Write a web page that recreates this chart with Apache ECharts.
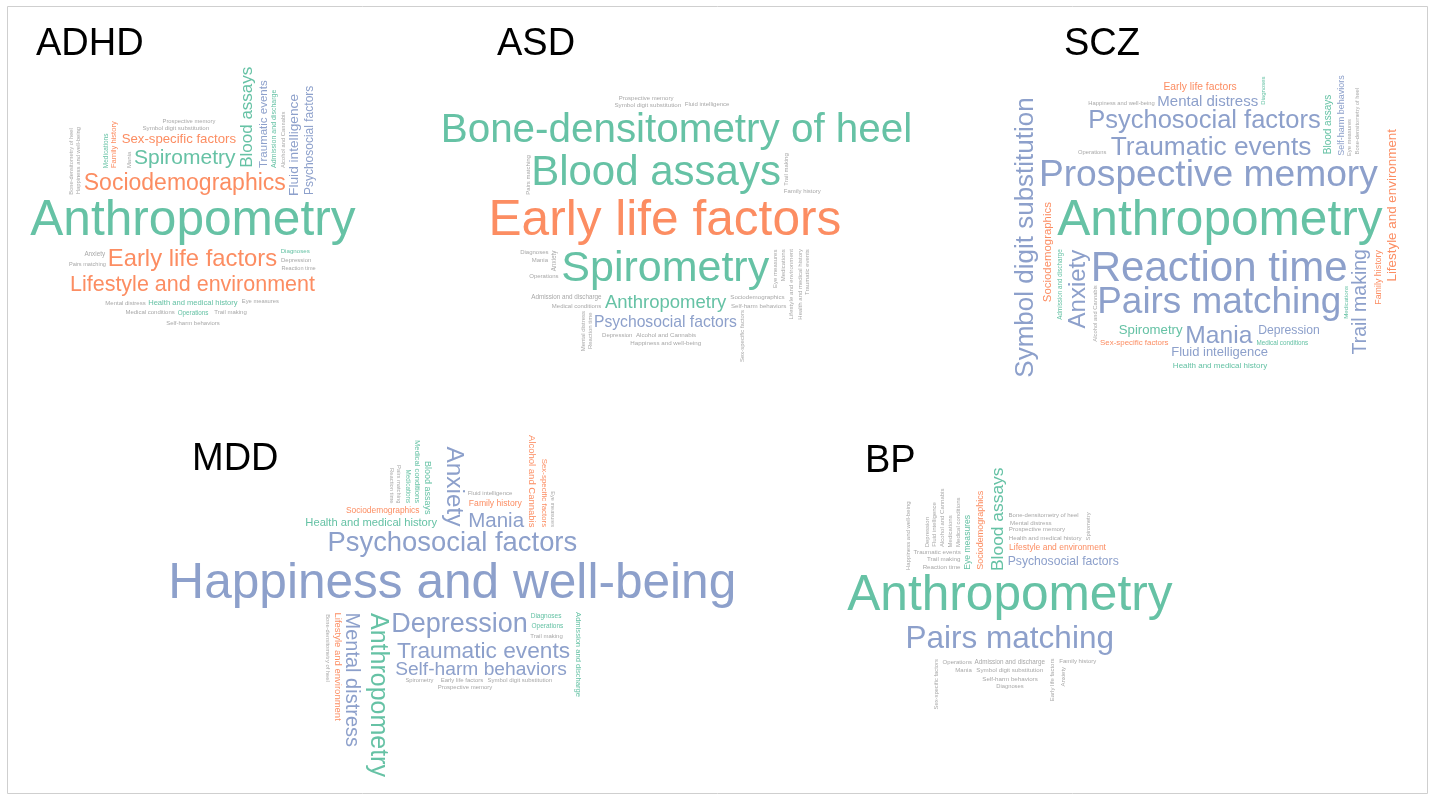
<!DOCTYPE html>
<html>
<head>
<meta charset="utf-8">
<style>
html, body { margin: 0; padding: 0; background: #fff; }
#main { width: 1429px; height: 795px; }
</style>
<script src="https://cdn.jsdelivr.net/npm/echarts@6/dist/echarts.min.js"></script>
</head>
<body>
<div id="main"></div>
<script>
// domains shown in every cloud
var categories = [
    'Anthropometry', 'Blood assays', 'Spirometry', 'Bone-densitometry of heel', 'Eye measures',
    'Health and medical history', 'Medical conditions', 'Diagnoses', 'Medications', 'Operations',
    'Admission and discharge', 'Early life factors', 'Sociodemographics', 'Lifestyle and environment',
    'Sex-specific factors', 'Family history', 'Alcohol and Cannabis', 'Psychosocial factors',
    'Fluid intelligence', 'Pairs matching', 'Prospective memory', 'Reaction time',
    'Symbol digit substitution', 'Trail making', 'Traumatic events', 'Mental distress', 'Mania',
    'Anxiety', 'Depression', 'Happiness and well-being', 'Self-harm behaviors'
];
// 0 = physical / medical, 1 = lifestyle, 2 = mental / cognitive
var groups = [0,0,0,0,0,0,0,0,0,0,0,1,1,1,1,1,1,2,2,2,2,2,2,2,2,2,2,2,2,2,2];

// word weights (same order as categories)
var adhdWeight = [49.6,17,21,5.7,5.8,7.6,6,6.2,6.5,6.3,7,23.8,23,21.5,13.2,7.6,5.8,12,13.7,5.6,5.8,5.6,6.2,6,11.5,6,6,6.3,6,5.9,6];
var adhdSig    = [1,1,1,0,0,1,0,1,1,1,1,1,1,1,1,1,0,1,1,0,0,0,0,0,1,0,0,0,0,0,0];

var asdWeight  = [18.5,42,43,40.4,6,6,6,6,6,6,6.3,49.6,6.2,6.2,6,6,6.2,15.7,6,6,6,6,6.2,6,6,6,6,6.3,6,6.2,6.2];
var asdSig     = [1,1,1,1,0,0,0,0,0,0,0,1,0,0,0,0,0,1,0,0,0,0,0,0,0,0,0,0,0,0,0];

var sczWeight  = [49.6,10,13.2,5.7,5.8,8,6.3,6,6.2,5.8,6.3,10.3,11.4,13.4,7.9,8.9,5.8,25.5,13,36.9,37.2,42,26,19.5,26.3,15,24.6,24,12.2,5.8,9];
var sczSig     = [1,1,1,0,0,1,1,1,1,0,1,1,1,1,1,1,0,1,1,1,1,1,1,1,1,1,1,1,1,0,1];

var mddWeight  = [25,9,5.8,5.8,5.6,11.2,7.7,6.5,6.3,6.5,7.6,6,8.4,9.5,7.9,8.6,9.5,27.4,6,5.8,6,5.8,6,6,22.7,20,20.5,24.4,27,49.6,19.2];
var mddSig     = [1,1,0,0,0,1,1,1,1,1,1,0,1,1,1,1,1,1,0,0,0,0,0,0,1,1,1,1,1,1,1];

var bpWeight   = [49.6,17.4,5.8,6,8.6,6.2,6,5.8,6,6,6.3,6,9,8.5,5.8,6,6,12.2,6,31.5,6.2,6.2,6.2,6.2,6.2,6.2,6,6,6,6,6.2];
var bpSig      = [1,1,0,0,1,0,0,0,0,0,0,0,1,1,0,0,0,1,0,1,0,0,0,0,0,0,0,0,0,0,0];

var groupColors = ['#66C2A5', '#FC8D62', '#8DA0CB'];
var greyColor = '#A8A8A8';
var fontFamily = 'Liberation Sans';
var sizeScale = 1;

// one entry per panel; "vertical" lists the words drawn turned
var clouds = [
    { title: 'ADHD', weight: adhdWeight, sig: adhdSig, cx: 193, cy: 222, start: Math.PI / 2, turn: 90,
      bounds: [20, 60, 420, 400], titlePos: [36, 26],
      vertical: ['Psychosocial factors', 'Fluid intelligence', 'Blood assays', 'Family history', 'Traumatic events',
                 'Admission and discharge', 'Medications', 'Bone-densitometry of heel', 'Happiness and well-being',
                 'Mania', 'Alcohol and Cannabis'] },
    { title: 'ASD', weight: asdWeight, sig: asdSig, cx: 666, cy: 222, start: Math.PI / 2, turn: 90,
      bounds: [440, 60, 970, 400], titlePos: [497, 26],
      vertical: ['Medications', 'Trail making', 'Pairs matching', 'Traumatic events', 'Health and medical history',
                 'Eye measures', 'Anxiety', 'Mental distress', 'Reaction time', 'Sex-specific factors',
                 'Lifestyle and environment'] },
    { title: 'SCZ', weight: sczWeight, sig: sczSig, cx: 1220, cy: 222, start: Math.PI / 2, turn: 90,
      bounds: [1000, 12, 1405, 490], titlePos: [1064, 26],
      vertical: ['Symbol digit substitution', 'Anxiety', 'Trail making', 'Lifestyle and environment', 'Sociodemographics',
                 'Family history', 'Self-harm behaviors', 'Blood assays', 'Medications', 'Admission and discharge',
                 'Diagnoses', 'Bone-densitometry of heel', 'Eye measures', 'Alcohol and Cannabis'] },
    { title: 'MDD', weight: mddWeight, sig: mddSig, cx: 453, cy: 585, start: -Math.PI / 2, turn: -90,
      bounds: [160, 430, 790, 790], titlePos: [192, 441],
      vertical: ['Anthropometry', 'Mental distress', 'Anxiety', 'Blood assays', 'Alcohol and Cannabis',
                 'Medical conditions', 'Admission and discharge', 'Lifestyle and environment', 'Sex-specific factors',
                 'Medications', 'Bone-densitometry of heel', 'Pairs matching', 'Reaction time', 'Eye measures'] },
    { title: 'BP', weight: bpWeight, sig: bpSig, cx: 1010, cy: 597, start: Math.PI / 2, turn: 90,
      bounds: [830, 430, 1210, 775], titlePos: [865, 443],
      vertical: ['Blood assays', 'Sociodemographics', 'Eye measures', 'Spirometry', 'Sex-specific factors',
                 'Alcohol and Cannabis', 'Fluid intelligence', 'Early life factors', 'Medical conditions',
                 'Medications', 'Depression', 'Anxiety', 'Happiness and well-being'] }
];

var titleSize = 38;
var ell = 0.85;

var measureCtx = document.createElement('canvas').getContext('2d');

// glyph box of a word around its label anchor: [left, top, right, bottom]
function textBox(text, size, rot) {
    measureCtx.font = size + 'px "' + fontFamily + '"';
    measureCtx.textAlign = 'center';
    measureCtx.textBaseline = 'middle';
    var m = measureCtx.measureText(text),
        l = m.actualBoundingBoxLeft, r = m.actualBoundingBoxRight,
        a = m.actualBoundingBoxAscent, d = m.actualBoundingBoxDescent;
    if (rot === 90) return [-a, -r, d, l];
    if (rot === -90) return [-d, -l, a, r];
    return [-l, -a, r, d];
}

function hits(rect, placed) {
    for (var j = 0; j < placed.length; j++) {
        var p = placed[j];
        if (rect[0] < p[2] && rect[2] > p[0] && rect[1] < p[3] && rect[3] > p[1]) return true;
    }
    return false;
}

// walk an elliptic spiral out from the panel centre, first free spot wins;
// the spiral point is the centre of the glyph box
function findSpot(box, cloud, placed, pad) {
    var r, n, k, th, x, y, rect, b = cloud.bounds,
        hw = (box[2] - box[0]) / 2, hh = (box[3] - box[1]) / 2,
        ox = (box[0] + box[2]) / 2, oy = (box[1] + box[3]) / 2;
    for (r = 0; r < 440; r += 1.5) {
        n = r === 0 ? 1 : Math.max(8, Math.round(Math.PI * r));
        for (k = 0; k < n; k++) {
            th = cloud.start + 2 * Math.PI * k / n;
            x = cloud.cx + r * Math.cos(th);
            y = cloud.cy + r * Math.sin(th) * ell;
            rect = [x - hw - pad, y - hh - pad, x + hw + pad, y + hh + pad];
            if (rect[0] < b[0] || rect[1] < b[1] || rect[2] > b[2] || rect[3] > b[3]) continue;
            if (!hits(rect, placed)) return { x: x - ox, y: y - oy, rect: rect };
        }
    }
    return null;
}

function layoutCloud(cloud) {
    var items = [], placed = [], out = [], i, it, box, spot, tb;

    // keep the panel title free
    tb = textBox(cloud.title, titleSize, 0);
    placed.push([cloud.titlePos[0] - 2, cloud.titlePos[1], cloud.titlePos[0] + tb[2] - tb[0] + 4, cloud.titlePos[1] + titleSize + 2]);

    for (i = 0; i < categories.length; i++) {
        items.push({
            name: categories[i],
            size: cloud.weight[i] * sizeScale,
            color: cloud.sig[i] ? groupColors[groups[i]] : greyColor,
            rot: cloud.vertical.indexOf(categories[i]) >= 0 ? cloud.turn : 0,
            order: i
        });
    }
    items.sort(function (a, b) { return b.size - a.size || a.order - b.order; });

    for (i = -1; it = items[++i];) {
        box = textBox(it.name, it.size, it.rot);
        spot = findSpot(box, cloud, placed, 1 + it.size * 0.03);
        if (!spot) continue;
        placed.push(spot.rect);
        out.push({
            name: it.name,
            value: [spot.x, spot.y],
            label: {
                show: true,
                position: 'inside',
                formatter: it.name,
                fontSize: it.size,
                fontFamily: fontFamily,
                color: it.color,
                opacity: 1,
                rotate: it.rot,
                align: 'center',
                verticalAlign: 'middle'
            }
        });
    }
    return out;
}

var series = [], titles = [];
clouds.forEach(function (cloud) {
    series.push({
        type: 'scatter',
        name: cloud.title,
        silent: true,
        symbol: 'circle',
        symbolSize: 1,
        itemStyle: { color: 'rgba(0,0,0,0)', opacity: 1 },
        data: layoutCloud(cloud)
    });
    titles.push({
        text: cloud.title,
        left: cloud.titlePos[0],
        top: cloud.titlePos[1],
        padding: 0,
        textStyle: { fontSize: titleSize, fontWeight: 'normal', color: '#000', fontFamily: fontFamily }
    });
});

var myChart = echarts.init(document.getElementById('main'));
myChart.setOption({
    animation: false,
    backgroundColor: '#fff',
    title: titles,
    grid: { left: 0, right: 0, top: 0, bottom: 0 },
    xAxis: { type: 'value', min: 0, max: 1429, show: false },
    yAxis: { type: 'value', min: 0, max: 795, inverse: true, show: false },
    graphic: [{
        type: 'rect',
        silent: true,
        shape: { x: 7.5, y: 6.5, width: 1420, height: 787 },
        style: { fill: 'none', stroke: '#cfcfcf', lineWidth: 1 }
    }],
    series: series
});
</script>
</body>
</html>
